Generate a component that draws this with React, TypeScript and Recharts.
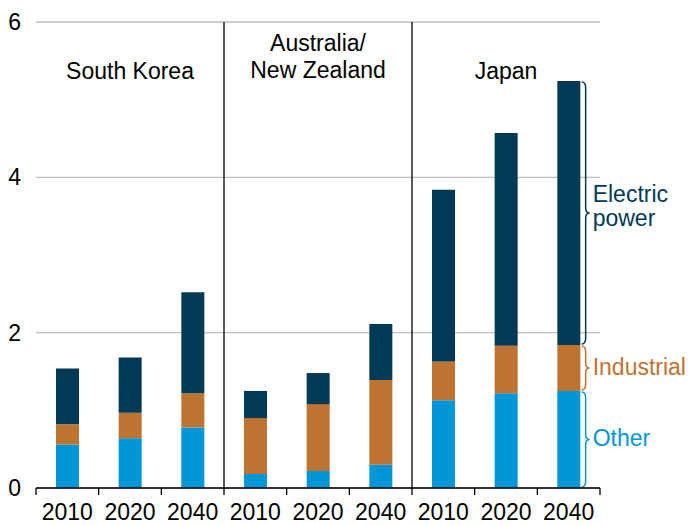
import React from 'react';
import { BarChart, Bar, XAxis, YAxis, CartesianGrid, ReferenceLine } from 'recharts';

// regions, years and the three stacked segments (bottom to top)
const regions = ['South Korea', 'Australia/\nNew Zealand', 'Japan'];
const years = ['2010', '2020', '2040'];
const other = [0.56, 0.64, 0.78, 0.18, 0.22, 0.3, 1.13, 1.22, 1.25];
const industrial = [0.26, 0.33, 0.44, 0.72, 0.86, 1.09, 0.5, 0.61, 0.59];
const electric = [0.72, 0.71, 1.3, 0.35, 0.4, 0.72, 2.21, 2.74, 3.4];
const yTicks = [0, 2, 4, 6];

const COLORS = {
  electric: '#003A57',
  industrial: '#BD7430',
  other: '#0096D7',
};
const FONT = '"Liberation Sans", Arial, sans-serif';

const keys = regions.flatMap((_, r) => years.map(y => `${r}-${y}`));
const chartData = keys.map((key, i) => ({
  key,
  year: years[i % years.length],
  other: other[i],
  industrial: industrial[i],
  electric: electric[i],
}));

const last = keys[keys.length - 1];
const lastIdx = keys.length - 1;

// tick mark below the axis, optionally a full separator line above it
const boundaryShape = (full: boolean) => (props: any) => {
  const top = Math.min(props.y1, props.y2);
  const bottom = Math.max(props.y1, props.y2);
  return (
    <line
      x1={props.x1}
      x2={props.x1}
      y1={full ? top : bottom}
      y2={bottom + 7}
      stroke="#000"
      strokeWidth={1.3}
    />
  );
};

const groupLabel = (text: string) => (props: any) => {
  const top = Math.min(props.y1, props.y2);
  const lines = text.split('\n');
  const baselines = lines.length === 1 ? [top + 57] : [top + 29, top + 56];
  return (
    <text x={props.x1} textAnchor="middle" fontFamily={FONT} fontSize={23} fill="#000">
      {lines.map((l, i) => (
        <tspan key={l} x={props.x1} y={baselines[i]}>
          {l}
        </tspan>
      ))}
    </text>
  );
};

const braceShape = (label: string, color: string) => (props: any) => {
  const top = Math.min(props.y1, props.y2) + 1;
  const bottom = Math.max(props.y1, props.y2) - 1;
  const mid = (top + bottom) / 2;
  const x = props.x1 + 13;
  const d = `M${x},${top} Q${x + 4},${top} ${x + 4},${top + 6} L${x + 4},${mid - 5} Q${x + 4},${mid} ${x + 8},${mid} Q${x + 4},${mid} ${x + 4},${mid + 5} L${x + 4},${bottom - 6} Q${x + 4},${bottom} ${x},${bottom}`;
  const lines = label.split('\n');
  const baselines = lines.length === 1 ? [mid + 7] : [mid - 11, mid + 13];
  return (
    <g>
      <path d={d} fill="none" stroke={color} strokeWidth={1.5} />
      <text fontFamily={FONT} fontSize={23} fill={color}>
        {lines.map((l, i) => (
          <tspan key={l} x={x + 11} y={baselines[i]}>
            {l}
          </tspan>
        ))}
      </text>
    </g>
  );
};

export default function App() {
  const o = other[lastIdx];
  const oi = o + industrial[lastIdx];
  const total = oi + electric[lastIdx];
  return (
    <div style={{ position: 'absolute', left: 0, top: 0, fontFamily: FONT }}>
      <BarChart
        width={689}
        height={525}
        data={chartData}
        margin={{ top: 22, right: 89, bottom: 0, left: 0 }}
        barCategoryGap={0}
      >
        <CartesianGrid vertical={false} stroke="#BFBFBF" strokeWidth={1.3} />
        <XAxis
          dataKey="key"
          tickFormatter={(v: string) => v.split('-')[1]}
          interval={0}
          height={37}
          tickLine={false}
          tickSize={0}
          tickMargin={16}
          axisLine={{ stroke: '#000', strokeWidth: 1.3 }}
          tick={{ fill: '#000', fontSize: 23, fontFamily: FONT }}
        />
        <YAxis
          domain={[0, 6]}
          ticks={yTicks}
          width={36}
          axisLine={false}
          tickLine={false}
          tickSize={0}
          tickMargin={15}
          tick={{ fill: '#000', fontSize: 23, fontFamily: FONT }}
        />
        <Bar dataKey="other" stackId="a" fill={COLORS.other} barSize={23} isAnimationActive={false} />
        <Bar dataKey="industrial" stackId="a" fill={COLORS.industrial} barSize={23} isAnimationActive={false} />
        <Bar dataKey="electric" stackId="a" fill={COLORS.electric} barSize={23} isAnimationActive={false} />

        {keys.map((k, i) => (
          <ReferenceLine
            key={`b-${k}`}
            x={k}
            position="start"
            shape={boundaryShape(i > 0 && i % years.length === 0)}
          />
        ))}
        <ReferenceLine x={last} position="end" shape={boundaryShape(false)} />

        {regions.map((r, i) => (
          <ReferenceLine key={`g-${i}`} x={keys[i * years.length + 1]} shape={groupLabel(r)} />
        ))}

        <ReferenceLine
          segment={[{ x: last, y: 0 }, { x: last, y: o }]}
          shape={braceShape('Other', COLORS.other)}
        />
        <ReferenceLine
          segment={[{ x: last, y: o }, { x: last, y: oi }]}
          shape={braceShape('Industrial', COLORS.industrial)}
        />
        <ReferenceLine
          segment={[{ x: last, y: oi }, { x: last, y: total }]}
          shape={braceShape('Electric\npower', COLORS.electric)}
        />
      </BarChart>
    </div>
  );
}
